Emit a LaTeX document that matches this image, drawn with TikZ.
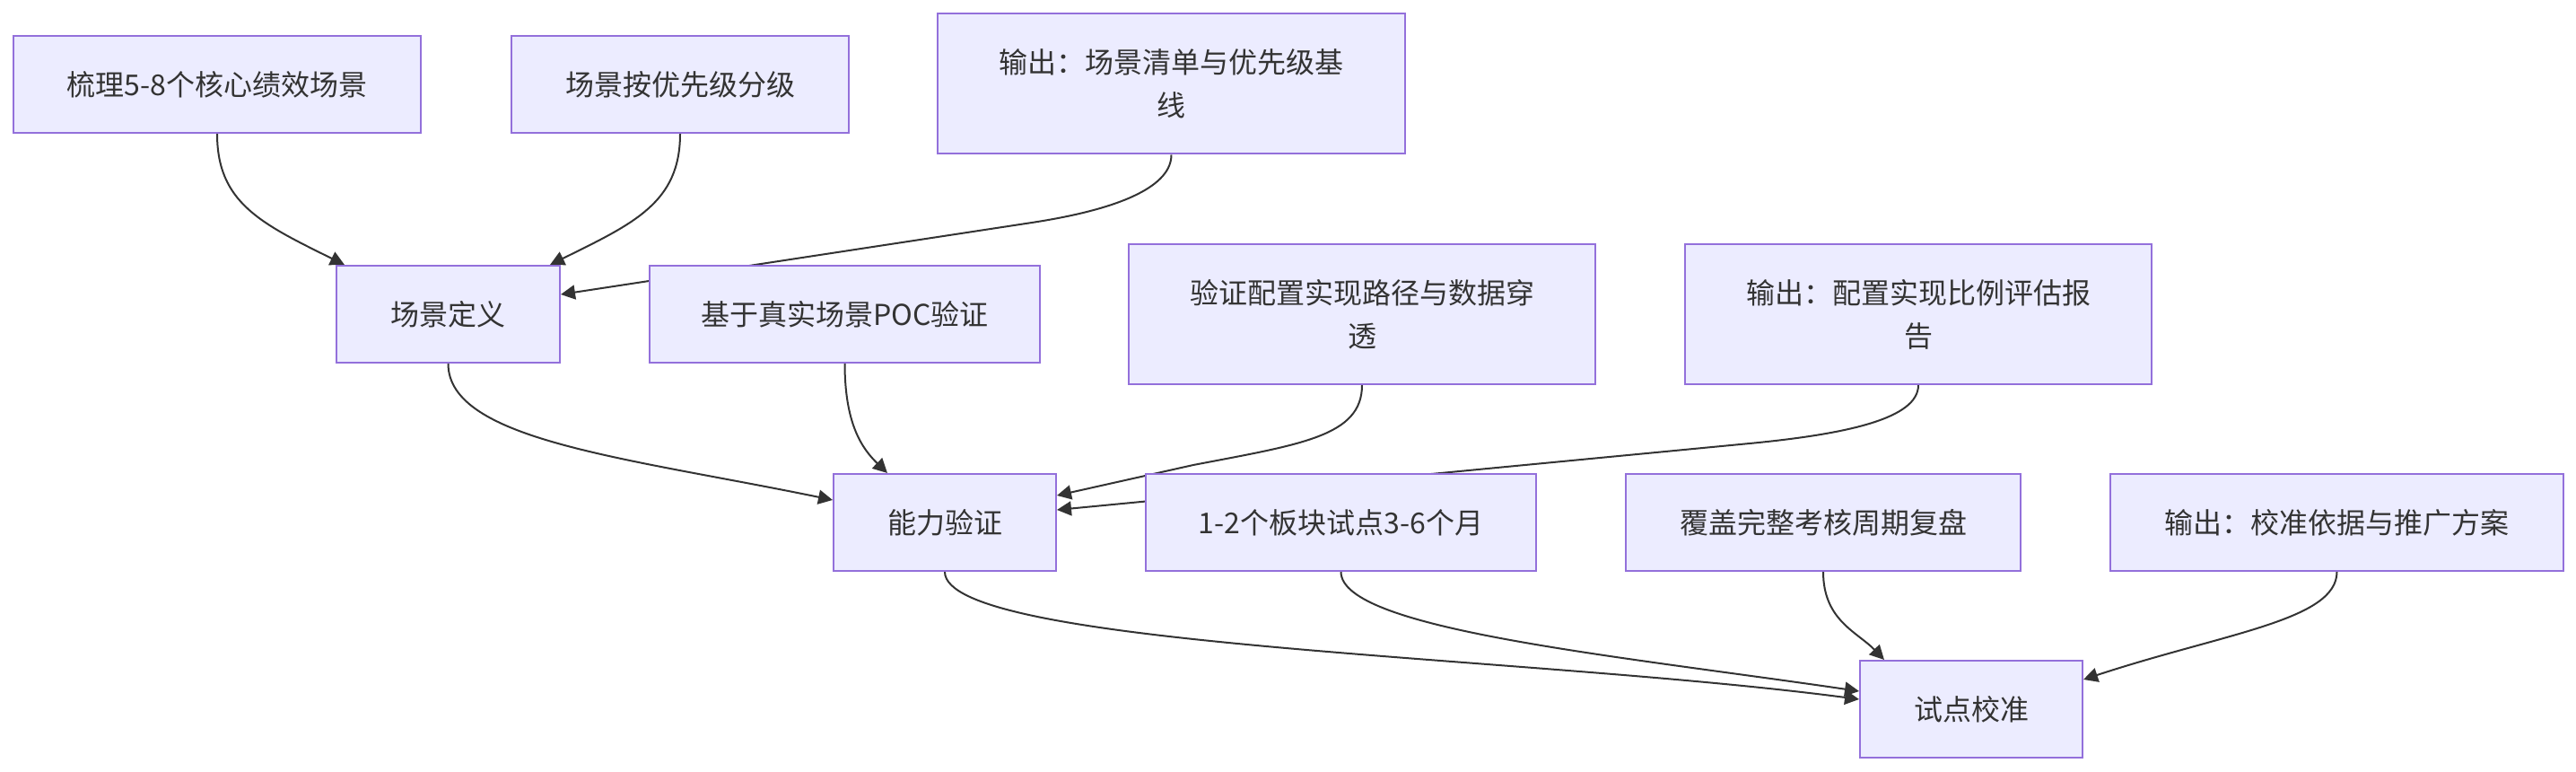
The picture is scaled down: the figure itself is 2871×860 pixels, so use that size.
\documentclass[tikz,border=0pt]{standalone}
\usepackage{fontspec}
\newfontfamily\cjk{Noto Sans CJK SC}
\usetikzlibrary{arrows.meta}
\pgfdeclarelayer{edges}
\pgfsetlayers{edges,main}
\definecolor{nodefill}{HTML}{ECECFF}
\definecolor{nodeline}{HTML}{9370DB}
\definecolor{edgecol}{HTML}{333333}
\definecolor{txtcol}{HTML}{333333}
\begin{document}
\begin{tikzpicture}[x=0.5pt,y=-0.5pt,
  box/.style={draw=nodeline, fill=nodefill, line width=1pt, text=txtcol,
    font=\cjk\fontsize{16}{24}\selectfont, align=center, inner sep=0pt,
    minimum height=54pt},
  tall/.style={minimum height=78pt},
  link/.style={draw=edgecol, line width=1pt,
    -{Triangle[length=8pt,width=8pt]}}]
\useasboundingbox (0,0) rectangle (2871,860);
% nodes
\node[box, minimum width=227pt] (A) at (242,94) {梳理5-8个核心绩效场景};
\node[box, minimum width=188pt] (B) at (758,94) {场景按优先级分级};
\node[box, tall, minimum width=260.5pt] (C) at (1305.5,93.5) {输出：场景清单与优先级基\\线};
\node[box, minimum width=124.5pt] (D) at (499.5,350) {场景定义};
\node[box, minimum width=217.5pt] (E) at (941.5,350) {基于真实场景POC验证};
\node[box, tall, minimum width=260pt] (F) at (1518,350) {验证配置实现路径与数据穿\\透};
\node[box, tall, minimum width=260pt] (G) at (2138,350) {输出：配置实现比例评估报\\告};
\node[box, minimum width=124pt] (H) at (1053,582) {能力验证};
\node[box, minimum width=217.5pt] (I) at (1494.5,582) {1-2个板块试点3-6个月};
\node[box, minimum width=220pt] (J) at (2032,582) {覆盖完整考核周期复盘};
\node[box, minimum width=252.5pt] (K) at (2604.5,582) {输出：校准依据与推广方案};
\node[box, minimum width=124pt] (L) at (2197,790) {试点校准};
% edges
\begin{pgfonlayer}{edges}
\draw[link] (A.south) .. controls +(0,77) and +(-93,-46) .. ([xshift=5pt]D.north west);
\draw[link] (B.south) .. controls +(0,77) and +(93,-46) .. ([xshift=-6pt]D.north east);
\draw[link] (C.south) .. controls +(0,33) and +(105,-16) .. (1150,248) -- ([yshift=11pt]D.east);
\draw[link] (E.south) .. controls +(0,66) and +(-29,-28) .. ([xshift=-32pt]H.north);
\draw[link] (D.south) .. controls +(0,86) and +(-228,-47) .. ([yshift=12.5pt]H.west);
\draw[link] (F.south) .. controls +(0,57) and +(120,-23) .. (1330,518) -- ([yshift=15pt]H.east);
\draw[link] (G.south) .. controls +(0,37) and +(110,-10.6) .. (1950,494) -- ([yshift=7pt]H.east);
\draw[link] (H.south) .. controls +(0,84) and +(-373,-49) .. ([yshift=5.5pt]L.west);
\draw[link] (I.south) .. controls +(0,64) and +(-273,-40) .. ([yshift=10pt]L.west);
\draw[link] (J.south) .. controls +(0,54) and +(-30,-31) .. ([xshift=-48.5pt]L.north);
\draw[link] (K.south) .. controls +(0,54) and +(158,-52) .. ([yshift=16.5pt]L.east);
\end{pgfonlayer}
\end{tikzpicture}
\end{document}
